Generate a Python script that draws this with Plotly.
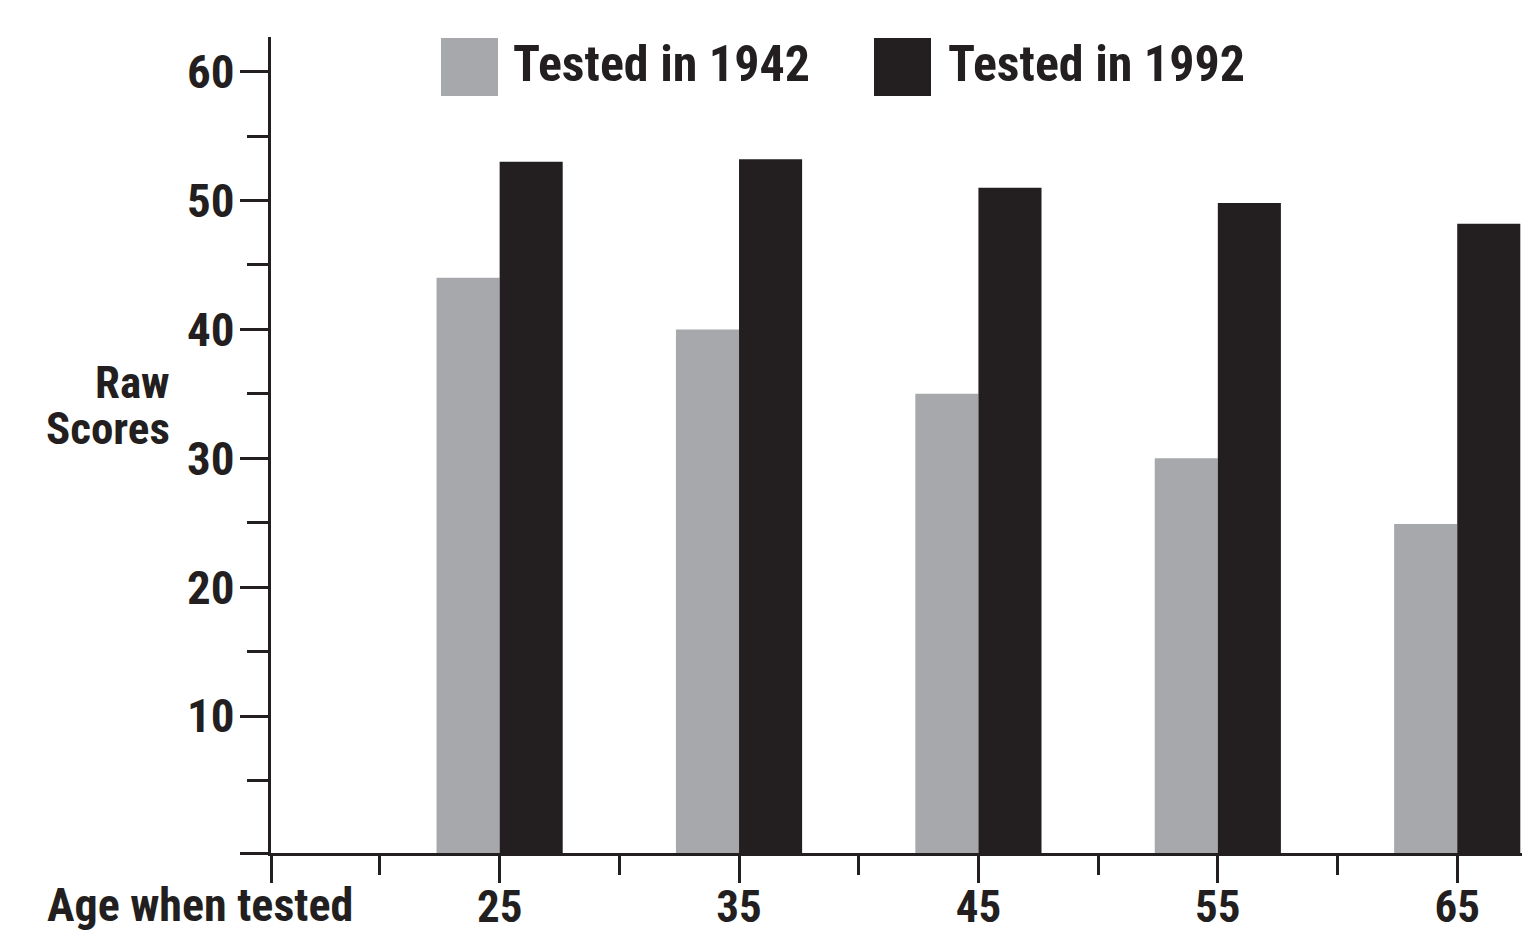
import plotly.graph_objects as go

# ---------------- data ----------------
ages = [25, 35, 45, 55, 65]
age_labels = ["25", "35", "45", "55", "65"]
scores_1942 = [44, 40, 35, 30, 24.9]
scores_1992 = [53, 53.2, 51, 49.8, 48.2]
series_names = ["Tested in 1942", "Tested in 1992"]
y_tick_values = [10, 20, 30, 40, 50, 60]
y_tick_labels = ["10", "20", "30", "40", "50", "60"]
y_minor_values = [5, 15, 25, 35, 45, 55]
x_minor_values = [20, 30, 40, 50, 60]
y_title_lines = ["Raw", "Scores"]
x_title = "Age when tested"

# ---------------- layout constants ----------------
# page coordinates of the target picture; the page body adds an 8px margin
OFF = 8
PAGE_W, PAGE_H = 1530, 950
W, H = PAGE_W - OFF, PAGE_H - 2 * OFF
L, R, T, B = 271, 1530, 37, 853          # plot area in page pixels
X_RANGE = [15.45, 68.04]
Y_RANGE = [-0.63, 62.69]
FLOOR = Y_RANGE[0]

GRAY = "#a7a8ac"
DARK = "#231f20"
FONT = "Roboto Condensed, Open Sans Condensed, DejaVu Sans Condensed, sans-serif"


def px_x(p):
    return (p - L) / (R - L)


def px_y(p):
    return (B - p) / (B - T)


def bold(size):
    return dict(size=size, family=FONT, color=DARK, weight="bold")


fig = go.Figure()
fig.add_trace(go.Bar(
    x=ages, y=[v - FLOOR for v in scores_1942], base=FLOOR,
    name=series_names[0], marker=dict(color=GRAY, line=dict(width=0)),
    hovertext=[str(v) for v in scores_1942],
))
fig.add_trace(go.Bar(
    x=ages, y=[v - FLOOR for v in scores_1992], base=FLOOR,
    name=series_names[1], marker=dict(color=DARK, line=dict(width=0)),
    hovertext=[str(v) for v in scores_1992],
))

fig.update_layout(
    width=W, height=H,
    margin=dict(l=L - OFF, r=0, t=T - OFF, b=H - (B - OFF), pad=0, autoexpand=False),
    paper_bgcolor="white", plot_bgcolor="white",
    showlegend=False,
    barmode="group", bargap=0.473, bargroupgap=0,
    font=bold(40),
)

fig.update_xaxes(
    range=X_RANGE, showgrid=False, zeroline=False, automargin=False,
    showline=True, linewidth=3, linecolor=DARK,
    ticks="outside", ticklen=27, tickwidth=3, tickcolor=DARK,
    tickmode="array", tickvals=[X_RANGE[0]] + ages, ticktext=[""] + age_labels,
    tickfont=bold(45),
    ticklabelstandoff=-15,
    minor=dict(tickmode="array", tickvals=x_minor_values, ticks="outside",
               ticklen=19, tickwidth=3, tickcolor=DARK, showgrid=False),
)
fig.update_yaxes(
    range=Y_RANGE, showgrid=False, zeroline=False, automargin=False,
    showline=True, linewidth=3, linecolor=DARK,
    ticks="outside", ticklen=28, tickwidth=3, tickcolor=DARK,
    tickmode="array", tickvals=[FLOOR] + y_tick_values, ticktext=[""] + y_tick_labels,
    tickfont=bold(47),
    ticklabelstandoff=-4,
    minor=dict(tickmode="array", tickvals=y_minor_values, ticks="outside",
               ticklen=21, tickwidth=3, tickcolor=DARK, showgrid=False),
)

shapes = [
    # legend swatches
    dict(type="rect", xref="paper", yref="paper", x0=px_x(441), x1=px_x(498),
         y0=px_y(96), y1=px_y(38), fillcolor=GRAY, line=dict(width=0)),
    dict(type="rect", xref="paper", yref="paper", x0=px_x(874), x1=px_x(931),
         y0=px_y(96), y1=px_y(38), fillcolor=DARK, line=dict(width=0)),
]
fig.update_layout(shapes=shapes)

annotations = [
    dict(text=series_names[0], x=px_x(511), y=px_y(64), xanchor="left", yanchor="middle",
         font=bold(50)),
    dict(text=series_names[1], x=px_x(946), y=px_y(64), xanchor="left", yanchor="middle",
         font=bold(50)),
    dict(text=y_title_lines[0], x=px_x(172), y=px_y(382), xanchor="right", yanchor="middle",
         font=bold(45), height=42),
    dict(text=y_title_lines[1], x=px_x(172), y=px_y(428), xanchor="right", yanchor="middle",
         font=bold(45), height=42),
    dict(text=x_title, x=px_x(45), y=px_y(905), xanchor="left", yanchor="middle",
         font=bold(46)),
]
for a in annotations:
    a.update(xref="paper", yref="paper", showarrow=False)
fig.update_layout(annotations=annotations)

fig.write_html("out.html")
